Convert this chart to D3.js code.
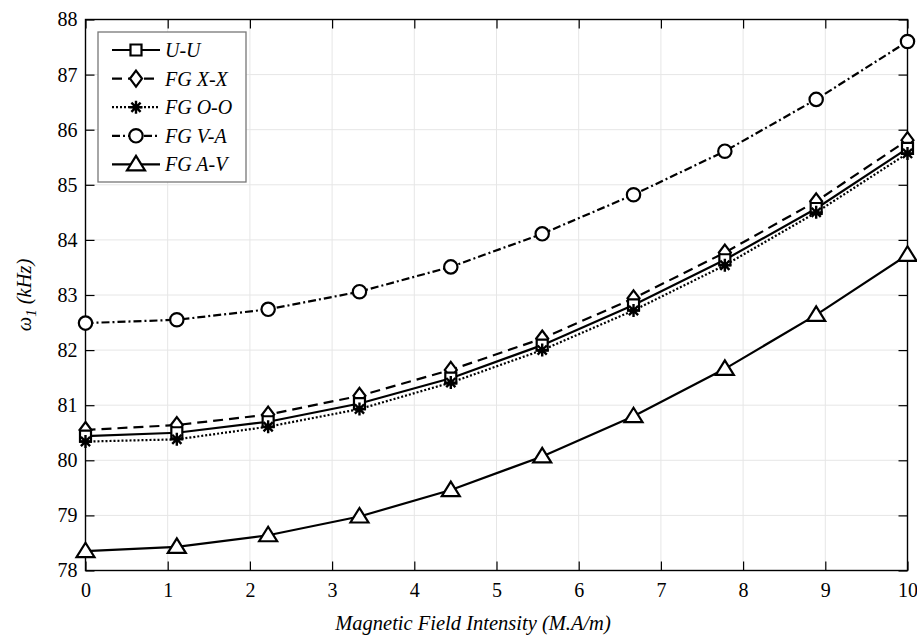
<!DOCTYPE html>
<html>
<head>
<meta charset="utf-8">
<script src="https://cdn.jsdelivr.net/npm/d3@7"></script>
<style>
  body { margin: 0; background: #fff; }
  svg { font-family: "Liberation Serif", "Times New Roman", serif; }
</style>
</head>
<body>
<svg id="chart" width="917" height="636"></svg>
<script>
// field intensity, 10 samples from 0 to 10
var xValues = [0, 1.111, 2.222, 3.333, 4.444, 5.556, 6.667, 7.778, 8.889, 10];

var uu = [80.44, 80.50, 80.70, 81.03, 81.49, 82.09, 82.82, 83.64, 84.57, 85.66];
var fgXX = [80.55, 80.64, 80.83, 81.17, 81.64, 82.21, 82.94, 83.77, 84.70, 85.81];
var fgOO = [80.34, 80.38, 80.61, 80.93, 81.41, 82.00, 82.72, 83.54, 84.50, 85.57];
var fgVA = [82.49, 82.55, 82.74, 83.06, 83.51, 84.11, 84.82, 85.61, 86.55, 87.60];
var fgAV = [78.35, 78.43, 78.64, 78.98, 79.46, 80.07, 80.80, 81.66, 82.64, 83.73];

var seriesNames = ["U-U", "FG X-X", "FG O-O", "FG V-A", "FG A-V"];
var xTicks = [0, 1, 2, 3, 4, 5, 6, 7, 8, 9, 10];
var yTicks = [78, 79, 80, 81, 82, 83, 84, 85, 86, 87, 88];

var series = [
  {name: seriesNames[0], values: uu,   dash: null,          marker: "square"},
  {name: seriesNames[1], values: fgXX, dash: "10,6",        marker: "diamond"},
  {name: seriesNames[2], values: fgOO, dash: "2,2",         marker: "star"},
  {name: seriesNames[3], values: fgVA, dash: "8,3,2,3",     marker: "circle"},
  {name: seriesNames[4], values: fgAV, dash: null,          marker: "triangle"}
];

var svg = d3.select('#chart');
var pLeft = 85.5, pRight = 907.5, pTop = 19.5, pBottom = 570.5;

var x = d3.scaleLinear().domain([0, 10]).range([pLeft, pRight]);
var y = d3.scaleLinear().domain([78, 88]).range([pBottom, pTop]);

// grid
var grid = svg.append('g');
grid.selectAll('line.gx')
  .data(xTicks.slice(1, -1))
  .enter().append('line')
    .attr('x1', function(d){ return x(d) }).attr('x2', function(d){ return x(d) })
    .attr('y1', pTop).attr('y2', pBottom)
    .style('stroke', '#e6e6e6').style('stroke-width', 1);
grid.selectAll('line.gy')
  .data(yTicks.slice(1, -1))
  .enter().append('line')
    .attr('y1', function(d){ return y(d) }).attr('y2', function(d){ return y(d) })
    .attr('x1', pLeft).attr('x2', pRight)
    .style('stroke', '#e6e6e6').style('stroke-width', 1);

// axes, ticks pointing inwards on all four sides
function styleAxis(g){
  g.select('.domain').remove();
  g.selectAll('.tick line').style('stroke', '#000').style('stroke-width', 1.2);
  g.selectAll('text').style('font-size', '20px').style('fill', '#000')
    .style('font-family', '"Liberation Serif", serif');
}

var xAxis = svg.append('g').attr('transform', 'translate(0,' + pBottom + ')')
  .call(d3.axisBottom(x).tickValues(xTicks).tickSize(-9).tickPadding(12).tickFormat(d3.format('d')));
styleAxis(xAxis);

var xAxisTop = svg.append('g').attr('transform', 'translate(0,' + pTop + ')')
  .call(d3.axisTop(x).tickValues(xTicks).tickSize(-9).tickFormat(''));
styleAxis(xAxisTop);

var yAxis = svg.append('g').attr('transform', 'translate(' + pLeft + ',0)')
  .call(d3.axisLeft(y).tickValues(yTicks).tickSize(-9).tickPadding(8).tickFormat(d3.format('d')));
styleAxis(yAxis);

var yAxisRight = svg.append('g').attr('transform', 'translate(' + pRight + ',0)')
  .call(d3.axisRight(y).tickValues(yTicks).tickSize(-9).tickFormat(''));
styleAxis(yAxisRight);

svg.append('rect')
  .attr('x', pLeft).attr('y', pTop)
  .attr('width', pRight - pLeft).attr('height', pBottom - pTop)
  .style('fill', 'none').style('stroke', '#000').style('stroke-width', 1.4);

// markers
var sym = {
  square:   d3.symbol().type(d3.symbolSquare).size(121),
  diamond:  function(){ return "M0,-8L6,0L0,8L-6,0Z" },
  // matlab style '*': plus and cross together
  star:     function(){ return "M0,-6.5V6.5M-6.5,0H6.5M-4.6,-4.6L4.6,4.6M-4.6,4.6L4.6,-4.6" },
  circle:   d3.symbol().type(d3.symbolCircle).size(140),
  triangle: function(){ return "M0,-8.5L9,6L-9,6Z" }
};

function drawMarker(g, type){
  g.append('path')
    .attr('d', sym[type]())
    .style('fill', type === 'star' ? 'none' : '#fff')
    .style('stroke', '#000')
    .style('stroke-width', type === 'star' ? 2.4 : 2.2);
}

var line = d3.line()
  .x(function(d, i){ return x(xValues[i]) })
  .y(function(d){ return y(d) });

var drawOrder = [3, 4, 1, 0, 2];
drawOrder.forEach(function(k){
  var s = series[k];
  svg.append('path')
    .datum(s.values)
    .attr('d', line)
    .style('fill', 'none')
    .style('stroke', '#000')
    .style('stroke-width', 2.2)
    .style('stroke-dasharray', s.dash);
});
drawOrder.forEach(function(k){
  var s = series[k];
  s.values.forEach(function(v, i){
    var g = svg.append('g').attr('transform', 'translate(' + x(xValues[i]) + ',' + y(v) + ')');
    drawMarker(g, s.marker);
  });
});

// legend
var legend = svg.append('g');
legend.append('rect')
  .attr('x', 98).attr('y', 32).attr('width', 148).attr('height', 150)
  .style('fill', '#fff').style('stroke', '#777').style('stroke-width', 1.3);

series.forEach(function(s, i){
  var ly = 50 + i * 28.6;
  legend.append('line')
    .attr('x1', 112).attr('x2', 160).attr('y1', ly).attr('y2', ly)
    .style('stroke', '#000').style('stroke-width', 2.2)
    .style('stroke-dasharray', s.dash);
  var g = legend.append('g').attr('transform', 'translate(136,' + ly + ')');
  drawMarker(g, s.marker);
  legend.append('text')
    .attr('x', 165).attr('y', ly + 7)
    .style('font-size', '20px').style('font-style', 'italic')
    .text(s.name);
});

// axis labels
svg.append('text')
  .attr('x', 473).attr('y', 630)
  .attr('text-anchor', 'middle')
  .style('font-size', '20.5px').style('font-style', 'italic')
  .text('Magnetic Field Intensity (M.A/m)');

var yl = svg.append('text')
  .attr('transform', 'translate(31,' + ((pTop + pBottom) / 2) + ') rotate(-90)')
  .attr('text-anchor', 'middle')
  .style('font-size', '20.5px').style('font-style', 'italic');
yl.append('tspan').text('ω');
yl.append('tspan').attr('dy', 5).style('font-size', '15px').text('1');
yl.append('tspan').attr('dy', -5).text(' (kHz)');
</script>
</body>
</html>
